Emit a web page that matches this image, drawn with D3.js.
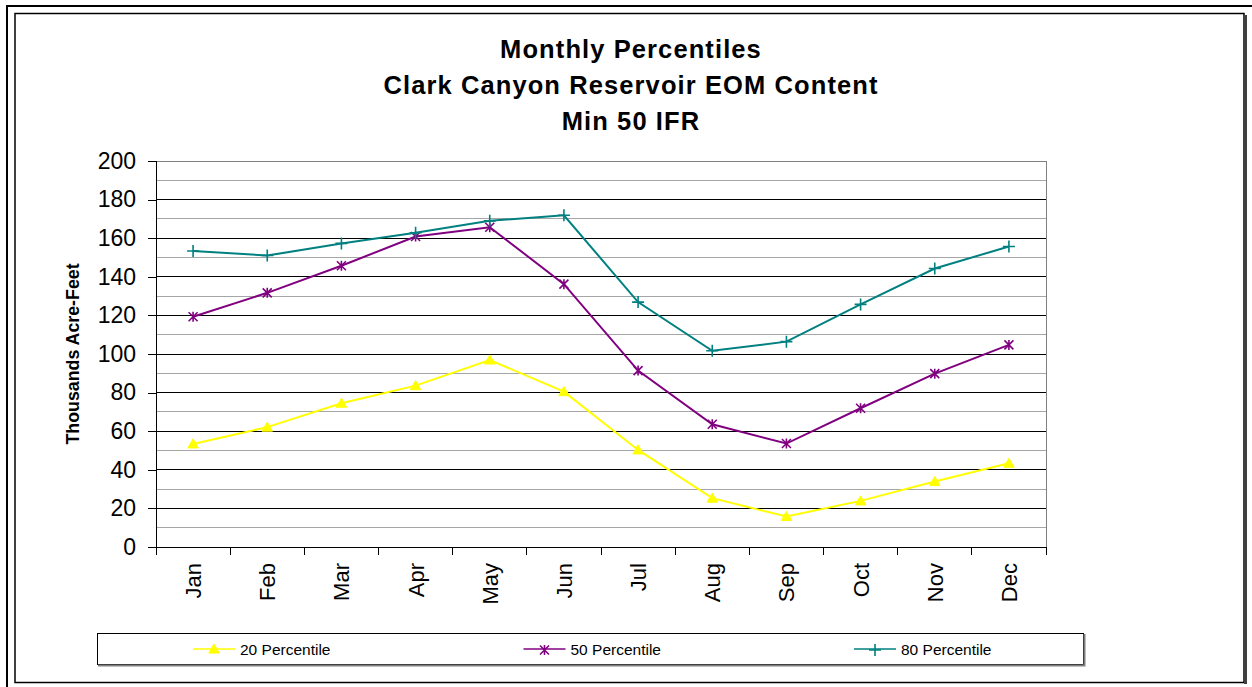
<!DOCTYPE html>
<html>
<head>
<meta charset="utf-8">
<script src="https://cdn.jsdelivr.net/npm/d3@7"></script>
<style>
  body { margin: 0; background: #fff; }
  svg { display: block; font-family: "Liberation Sans", Arial, sans-serif; }
</style>
</head>
<body>
<div id="chart"></div>
<script>
// chart values
const months = ["Jan", "Feb", "Mar", "Apr", "May", "Jun", "Jul", "Aug", "Sep", "Oct", "Nov", "Dec"];
const p20 = [53.4, 62.1, 74.5, 83.6, 96.9, 80.5, 50.3, 25.3, 15.8, 23.9, 33.9, 43.4];
const p50 = [119.3, 131.7, 145.7, 160.9, 165.7, 136.2, 91.4, 63.6, 53.6, 71.9, 89.8, 104.7];
const p80 = [153.4, 151.0, 157.3, 162.8, 169.0, 171.9, 126.9, 101.7, 106.4, 125.7, 144.3, 155.7];
const yTicks = [0, 20, 40, 60, 80, 100, 120, 140, 160, 180, 200];
const titleLines = ["Monthly Percentiles", "Clark Canyon Reservoir EOM Content", "Min 50 IFR"];

const series = [
  { name: "20 Percentile", values: p20, color: "#ffff00", marker: "triangle" },
  { name: "50 Percentile", values: p50, color: "#800080", marker: "star" },
  { name: "80 Percentile", values: p80, color: "#008080", marker: "plus" }
];

const width = 1252, height = 687;
const plot = { left: 156, right: 1046, top: 161, bottom: 547 };

const svg = d3.select("#chart").append("svg")
  .attr("width", width)
  .attr("height", height)
  .attr("viewBox", `0 0 ${width} ${height}`);

// outer frame and chart frame
svg.append("path")
  .attr("d", `M7,${height} V6 H${width}`)
  .attr("fill", "none").attr("stroke", "#000").attr("stroke-width", 2);
svg.append("rect")
  .attr("x", 15).attr("y", 13.5).attr("width", 1229).attr("height", 669)
  .attr("fill", "#fff").attr("stroke", "#000").attr("stroke-width", 1.5);
svg.append("line")
  .attr("x1", 1245.5).attr("x2", 1245.5).attr("y1", 15).attr("y2", 684)
  .attr("stroke", "#404040").attr("stroke-width", 3);

// title
svg.append("g").selectAll("text")
  .data(titleLines)
  .enter().append("text")
  .attr("x", 631)
  .attr("y", (d, i) => 58 + i * 36)
  .attr("text-anchor", "middle")
  .attr("font-size", 25.5)
  .attr("font-weight", "bold")
  .attr("letter-spacing", 1.1)
  .text(d => d);

const xScale = d3.scaleBand()
  .domain(months)
  .range([plot.left, plot.right]);

const yScale = d3.scaleLinear()
  .domain([0, 200])
  .range([plot.bottom, plot.top]);

// gridlines
const grid = svg.append("g").attr("shape-rendering", "crispEdges");
grid.selectAll(".minor")
  .data(d3.range(10, 200, 20))
  .enter().append("line")
  .attr("class", "minor")
  .attr("x1", plot.left).attr("x2", plot.right)
  .attr("y1", d => yScale(d)).attr("y2", d => yScale(d))
  .attr("stroke", "#a6a6a6");
grid.selectAll(".major")
  .data(yTicks.filter(d => d > 0 && d < 200))
  .enter().append("line")
  .attr("class", "major")
  .attr("x1", plot.left).attr("x2", plot.right)
  .attr("y1", d => yScale(d)).attr("y2", d => yScale(d))
  .attr("stroke", "#000");
grid.append("path")
  .attr("d", `M${plot.left},${yScale(200)} H${plot.right} V${plot.bottom}`)
  .attr("fill", "none").attr("stroke", "#808080");

// y axis
const yAxis = svg.append("g")
  .attr("transform", `translate(${plot.left},0)`)
  .attr("shape-rendering", "crispEdges")
  .call(d3.axisLeft(yScale).tickValues(yTicks).tickSize(8).tickPadding(12));
yAxis.select(".domain").attr("stroke", "#000");
yAxis.selectAll("text")
  .attr("font-size", 23)
  .attr("font-family", "Liberation Sans, Arial, sans-serif")
  .attr("fill", "#000");

// x axis: ticks between categories
const xAxis = svg.append("g")
  .attr("transform", `translate(0,${plot.bottom})`)
  .attr("shape-rendering", "crispEdges");
xAxis.append("line")
  .attr("x1", plot.left - 8).attr("x2", plot.right)
  .attr("stroke", "#000");
xAxis.selectAll(".tick")
  .data(months.map(m => xScale(m)).concat([plot.right]))
  .enter().append("line")
  .attr("class", "tick")
  .attr("x1", d => d).attr("x2", d => d)
  .attr("y1", 0).attr("y2", 8)
  .attr("stroke", "#000");
xAxis.selectAll(".label")
  .data(months)
  .enter().append("text")
  .attr("class", "label")
  .attr("transform", d => `translate(${xScale(d) + xScale.bandwidth() / 2 + 8},16) rotate(-90)`)
  .attr("text-anchor", "end")
  .attr("font-size", 22)
  .text(d => d);

// y axis title
svg.append("text")
  .attr("transform", "translate(79,354) rotate(-90)")
  .attr("text-anchor", "middle")
  .attr("font-size", 17.8)
  .attr("font-weight", "bold")
  .text("Thousands Acre-Feet");

// markers
const markerPath = {
  triangle: d3.symbol().type(d3.symbolTriangle).size(48)(),
  star: "M0,-5V5M-4.5,-4.5L4.5,4.5M-4.5,4.5L4.5,-4.5",
  plus: "M0,-6V6M-6,0H6"
};

function drawMarker(g, s) {
  if (s.marker === "triangle") {
    g.attr("d", markerPath.triangle).attr("fill", s.color).attr("stroke", s.color);
  } else {
    g.attr("d", markerPath[s.marker]).attr("fill", "none")
      .attr("stroke", s.color).attr("stroke-width", 1.6);
  }
}

const line = d3.line()
  .x((d, i) => xScale(months[i]) + xScale.bandwidth() / 2)
  .y(d => yScale(d));

series.forEach(s => {
  const g = svg.append("g");
  g.append("path")
    .attr("d", line(s.values))
    .attr("fill", "none")
    .attr("stroke", s.color)
    .attr("stroke-width", 2);
  g.selectAll("path.marker")
    .data(s.values)
    .enter().append("path")
    .attr("class", "marker")
    .attr("transform", (d, i) => `translate(${xScale(months[i]) + xScale.bandwidth() / 2},${yScale(d) + (s.marker === "triangle" ? 1 : 0)})`)
    .call(drawMarker, s);
});

// legend
const legend = svg.append("g");
legend.append("rect")
  .attr("x", 97.5).attr("y", 633.5).attr("width", 986).attr("height", 31)
  .attr("fill", "#fff").attr("stroke", "#000").attr("stroke-width", 1);
legend.append("path")
  .attr("d", "M98,665.5H1084.5V634")
  .attr("fill", "none").attr("stroke", "#808080").attr("stroke-width", 2);

const entries = legend.selectAll(".entry")
  .data(series)
  .enter().append("g")
  .attr("class", "entry")
  .attr("transform", (d, i) => `translate(${193 + i * 330.5},649)`);
entries.append("line")
  .attr("x1", 0).attr("x2", 42)
  .attr("stroke", d => d.color).attr("stroke-width", 1.5);
entries.append("path")
  .attr("transform", "translate(21,1)")
  .each(function (d) { d3.select(this).call(drawMarker, d); });
entries.append("text")
  .attr("x", 47)
  .attr("y", 5.5)
  .attr("font-size", 15.5)
  .text(d => d.name);
</script>
</body>
</html>
